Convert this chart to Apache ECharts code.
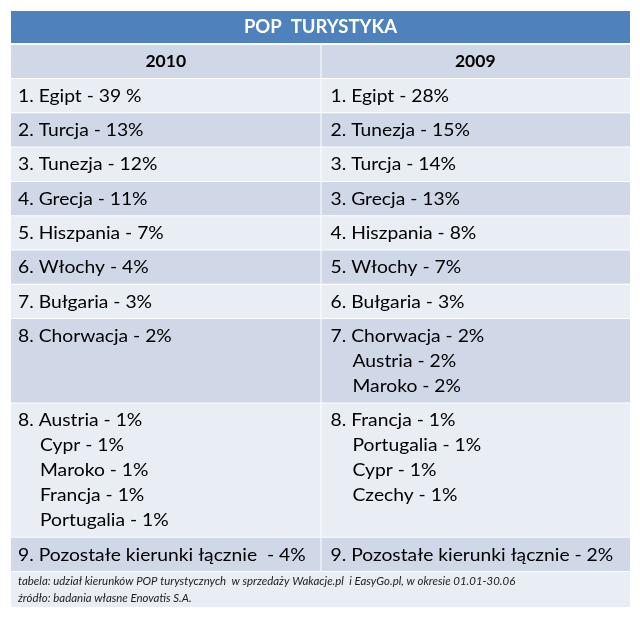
<!DOCTYPE html>
<html><head><meta charset="utf-8">
<script src="https://cdn.jsdelivr.net/npm/echarts@6/dist/echarts.min.js"></script>
<style>html,body{margin:0;padding:0;background:#fff}#c{width:640px;height:619px}</style>
</head><body><div id="c"></div>
<script>
const tableTitle = 'POP  TURYSTYKA';
const years = ['2010', '2009'];

const countries2010 = ['Egipt', 'Turcja', 'Tunezja', 'Grecja', 'Hiszpania', 'Włochy', 'Bułgaria', 'Chorwacja', 'Austria', 'Cypr', 'Maroko', 'Francja', 'Portugalia', 'Pozostałe kierunki łącznie'];
const shares2010 = [39, 13, 12, 11, 7, 4, 3, 2, 1, 1, 1, 1, 1, 4];
const ranks2010 = [1, 2, 3, 4, 5, 6, 7, 8, 8, 8, 8, 8, 8, 9];
const rows2010 = [0, 1, 2, 3, 4, 5, 6, 7, 8, 8, 8, 8, 8, 9];

const countries2009 = ['Egipt', 'Tunezja', 'Turcja', 'Grecja', 'Hiszpania', 'Włochy', 'Bułgaria', 'Chorwacja', 'Austria', 'Maroko', 'Francja', 'Portugalia', 'Cypr', 'Czechy', 'Pozostałe kierunki łącznie'];
const shares2009 = [28, 15, 14, 13, 8, 7, 3, 2, 2, 2, 1, 1, 1, 1, 2];
const ranks2009 = [1, 2, 3, 3, 4, 5, 6, 7, 7, 7, 8, 8, 8, 8, 9];
const rows2009 = [0, 1, 2, 3, 4, 5, 6, 7, 7, 7, 8, 8, 8, 8, 9];

// original text quirks (index of entries)
const spacedPct2010 = [0];
const wideDash2010 = [13];

const footnotes = [
  'tabela: udział kierunków POP turystycznych  w sprzedaży Wakacje.pl  i EasyGo.pl, w okresie 01.01-30.06',
  'źródło: badania własne Enovatis S.A.'
];

// ---------- layout ----------
const FONT = 'Lato';
const PITCH = 34.3, LINE = 25;
const COL_LIGHT = '#E9EDF4', COL_DARK = '#D0D8E8', COL_BLUE = '#4F81BD';

function buildColumn(countries, shares, ranks, rows, spacedPct, wideDash) {
  const out = [];
  countries.forEach((c, i) => {
    const r = rows[i];
    out[r] = out[r] || [];
    const first = out[r].length === 0;
    const dash = wideDash.includes(i) ? '  - ' : ' - ';
    const pct = spacedPct.includes(i) ? ' %' : '%';
    out[r].push({ text: (first ? ranks[i] + '. ' : '') + c + dash + shares[i] + pct, indent: first ? 0 : 1 });
  });
  return out;
}
const columns = [
  buildColumn(countries2010, shares2010, ranks2010, rows2010, spacedPct2010, wideDash2010),
  buildColumn(countries2009, shares2009, ranks2009, rows2009, [], [])
];
const nRows = Math.max(columns[0].length, columns[1].length);

const cells = [];   // [x0, x1, yTop, yBottom, color]
const texts = [];   // [col, yCenter, indent, text, kind]
cells.push([0, 2, 0, 33, COL_BLUE]);
texts.push([1, 16, 0, tableTitle, 'title']);
years.forEach((y, j) => {
  cells.push([j, j + 1, 34, 68, COL_DARK]);
  texts.push([j + 0.5, 50.5, 0, y, 'header']);
});
let yCursor = 68;
for (let r = 0; r < nRows; r++) {
  const n = Math.max(columns[0][r].length, columns[1][r].length);
  const h = PITCH + LINE * (n - 1);
  const color = r % 2 === 0 ? COL_LIGHT : COL_DARK;
  for (let j = 0; j < 2; j++) {
    cells.push([j, j + 1, yCursor, yCursor + h, color]);
    columns[j][r].forEach((ln, k) => texts.push([j, yCursor + 17 + LINE * k, ln.indent, ln.text, 'cell']));
  }
  yCursor += h;
}
const footColor = nRows % 2 === 0 ? COL_LIGHT : COL_DARK;
cells.push([0, 2, yCursor, yCursor + 36, footColor]);
footnotes.forEach((t, k) => texts.push([0, yCursor + 9 + 17 * k, 0, t, 'foot']));

const chart = echarts.init(document.getElementById('c'), null, { renderer: 'canvas' });
chart.setOption({
  animation: false,
  backgroundColor: '#ffffff',
  grid: { left: 11, top: 11, width: 619, height: 597 },
  xAxis: { type: 'value', min: 0, max: 2, show: false },
  yAxis: { type: 'value', min: 0, max: 597, inverse: true, show: false },
  series: [
    {
      type: 'custom',
      data: cells,
      renderItem: function (params, api) {
        const x0 = api.value(0), x1 = api.value(1);
        const p0 = api.coord([x0, api.value(2)]);
        const p1 = api.coord([x1, api.value(3)]);
        const left = p0[0] + (x0 > 0 ? 1 : 0);
        return {
          type: 'rect',
          shape: { x: left, y: p0[1], width: p1[0] - left, height: p1[1] - p0[1] - 1 },
          style: { fill: cells[params.dataIndex][4] }
        };
      }
    },
    {
      type: 'custom',
      data: texts,
      renderItem: function (params, api) {
        const d = texts[params.dataIndex];
        const p = api.coord([d[0], d[1]]);
        const kind = d[4];
        let font, fill = '#000', align = 'left', x = p[0], sx = 1;
        if (kind === 'title') { font = 'bold 18.5px ' + FONT; fill = '#ffffff'; align = 'center'; }
        else if (kind === 'header') { font = 'bold 17.5px ' + FONT; align = 'center'; }
        else if (kind === 'foot') { font = 'italic 11px ' + FONT; fill = '#222'; x = p[0] + 7; sx = 1.04; }
        else { font = '18px ' + FONT; x = p[0] + (d[0] > 0 ? 10 : 7) + d[2] * 22; sx = 1.07; }
        return {
          type: 'text',
          x: x, y: p[1], scaleX: sx,
          style: { x: 0, y: 0, text: d[3], font: font, fill: fill, align: align, verticalAlign: 'middle', textAlign: align, textVerticalAlign: 'middle' }
        };
      }
    }
  ]
});
</script>
</body></html>
